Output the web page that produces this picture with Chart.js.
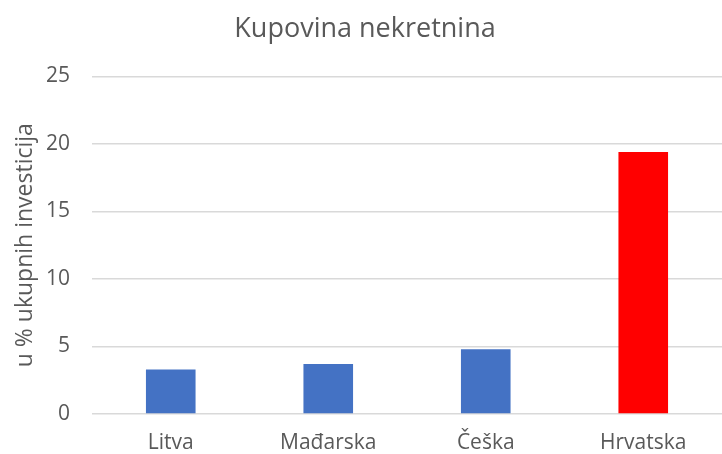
<!DOCTYPE html>
<html>
<head>
<meta charset="utf-8">
<script src="https://cdn.jsdelivr.net/npm/chart.js@4"></script>
<style>
  html, body { margin: 0; padding: 0; background: #fff; }
  #wrap { width: 722px; height: 454px; }
</style>
</head>
<body>
<div id="wrap"><canvas id="chart" width="722" height="454"></canvas></div>
<script>
const categories = ["Litva", "Mađarska", "Češka", "Hrvatska"];
const values = [3.3, 3.7, 4.8, 19.4];
const barColors = ["#4472c4", "#4472c4", "#4472c4", "#ff0000"];
const yTicks = [0, 5, 10, 15, 20, 25];

const textColor = "#595959";
const fontFamily = "'Open Sans', sans-serif";

new Chart(document.getElementById("chart"), {
    type: "bar",
    data: {
        labels: categories,
        datasets: [{
            data: values,
            backgroundColor: barColors,
            categoryPercentage: 1,
            barPercentage: 0.315
        }]
    },
    options: {
        responsive: false,
        animation: false,
        // plot area runs slightly past the right edge, as in the source image
        layout: { padding: { left: 1, right: -7, top: 0, bottom: 0 } },
        plugins: {
            legend: { display: false },
            tooltip: { enabled: false },
            title: {
                display: true,
                text: "Kupovina nekretnina",
                color: textColor,
                font: { family: fontFamily, size: 27, weight: "normal" },
                padding: { top: 13, bottom: 31 }
            }
        },
        scales: {
            x: {
                grid: { display: false },
                border: { display: false },
                ticks: {
                    color: textColor,
                    font: { family: fontFamily, size: 21 },
                    padding: 8
                },
                afterFit(scale) { scale.height = 40; }
            },
            y: {
                min: 0,
                max: 25,
                afterBuildTicks(scale) { scale.ticks = yTicks.map(v => ({ value: v })); },
                grid: { color: "#d9d9d9", lineWidth: 1.5, drawTicks: false },
                border: { display: false },
                ticks: {
                    color: textColor,
                    font: { family: fontFamily, size: 21 },
                    padding: 22
                },
                title: {
                    display: true,
                    text: "u % ukupnih investicija",
                    color: textColor,
                    font: { family: fontFamily, size: 23, weight: "normal" },
                    padding: { top: 11, bottom: 8 }
                },
                afterFit(scale) { scale.width = 91; }
            }
        }
    }
});
</script>
</body>
</html>
